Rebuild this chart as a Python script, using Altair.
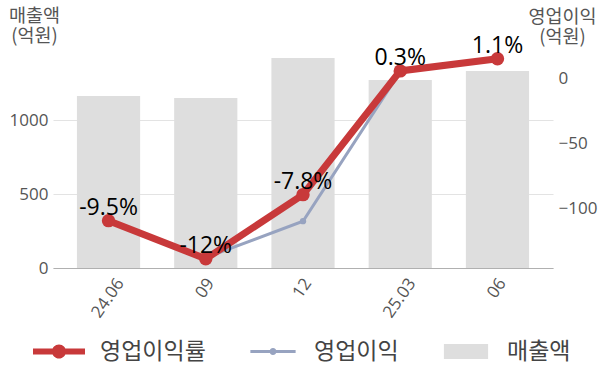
import altair as alt
import pandas as pd

periods = ["24.06", "09", "12", "25.03", "06"]
sales = [1162, 1149, 1419, 1270, 1331]          # 매출액 (억원)
op_profit = [-110, -138, -110, 5, 15]           # 영업이익 (억원)
op_margin = [-9.5, -12, -7.8, 0.3, 1.1]         # 영업이익률 (%)
legend_names = ["영업이익률", "영업이익", "매출액"]
legend_colors = ["#c8393a", "#97a3c0", "#dedede"]
left_ticks = [0, 500, 1000]
right_ticks = [-100, -50, 0]

df = pd.DataFrame({"period": periods, "sales": sales, "op": op_profit, "rate": op_margin})
leg = pd.DataFrame({"name": legend_names, "period": [periods[0]] * len(legend_names)})

FONT_KR = "Noto Sans CJK KR"
FONT_NUM = "Open Sans"
GRAY_TXT = "#555555"

x_enc = alt.X(
    "period:N",
    sort=periods,
    scale=alt.Scale(paddingInner=0.35, paddingOuter=0.246),
    axis=alt.Axis(
        title=None, labelAngle=-55, labelAlign="right", labelBaseline="middle",
        labelPadding=12,
        labelOffset={"condition": {"test": "length(datum.label) > 3", "value": 12}, "value": 5},
        ticks=False, domainColor="#b0b0b0", labelFont=FONT_NUM, labelFontSize=17,
        labelColor=GRAY_TXT, labelOverlap=False, zindex=1, grid=False,
    ),
)

base = alt.Chart(df)

bars = base.mark_bar(color="#dedede").encode(
    x=x_enc,
    y=alt.Y(
        "sales:Q",
        scale=alt.Scale(domain=[0, 1500], nice=False),
        axis=alt.Axis(
            orient="left", values=left_ticks, format="d", title=["매출액", "(억원)"], titleAngle=0,
            titleAlign="center", titleBaseline="alphabetic", titleX=-19, titleY=-25,
            titleFont=FONT_KR, titleFontSize=18.5, titleFontWeight="normal", titleColor=GRAY_TXT,
            titleLineHeight=20, labelFont=FONT_NUM, labelFontSize=17, labelColor=GRAY_TXT,
            labelPadding=5, ticks=False, domain=False, grid=True, gridColor="#e3e3e3",
        ),
    ),
)

y_op = alt.Y(
    "op:Q",
    scale=alt.Scale(domain=[-146, 24.8], nice=False, zero=False),
    axis=alt.Axis(
        orient="right", values=right_ticks, format="d", title=["영업이익", "(억원)"], titleAngle=0,
        titleAlign="center", titleBaseline="alphabetic", titleX=9, titleY=-24,
        titleFont=FONT_KR, titleFontSize=18.5, titleFontWeight="normal", titleColor=GRAY_TXT,
        titleLineHeight=20, labelFont=FONT_NUM, labelFontSize=17, labelColor=GRAY_TXT,
        labelPadding=5, ticks=False, domain=False, grid=False,
    ),
)
gray_line = base.mark_line(color="#97a3c0", strokeWidth=3).encode(x=alt.X("period:N", sort=periods), y=y_op)
gray_pts = base.mark_point(color="#97a3c0", filled=True, opacity=1, size=40).encode(
    x=alt.X("period:N", sort=periods), y=y_op)
gray = alt.layer(gray_line, gray_pts)

y_rate = alt.Y("rate:Q", scale=alt.Scale(domain=[-12.6, 1.93], nice=False, zero=False), axis=None)
red_line = base.mark_line(color="#c8393a", strokeWidth=7).encode(x=alt.X("period:N", sort=periods), y=y_rate)
red_pts = base.mark_point(color="#c8393a", filled=True, opacity=1, size=180).encode(
    x=alt.X("period:N", sort=periods), y=y_rate)
red_txt = base.transform_calculate(lbl="datum.rate + '%'").mark_text(
    dy=-6, baseline="alphabetic", fontSize=23, font=FONT_NUM, color="#000000"
).encode(x=alt.X("period:N", sort=periods), y=y_rate, text="lbl:N")
red = alt.layer(red_line, red_pts, red_txt)

shape_paths = [
    "M-1,-0.115L1,-0.115L1,0.115L-1,0.115Z M0.27,0A0.27,0.27 0 1,1 -0.27,0A0.27,0.27 0 1,1 0.27,0Z",
    "M-0.87,-0.058L0.87,-0.058L0.87,0.058L-0.87,0.058Z M0.135,0A0.135,0.135 0 1,1 -0.135,0A0.135,0.135 0 1,1 0.135,0Z",
    "M-0.85,-0.29L0.85,-0.29L0.85,0.29L-0.85,0.29Z",
]
lg = alt.Legend(
    title=None, orient="none", legendX=-20, legendY=279.5, direction="horizontal",
    symbolSize=2704, symbolOpacity=1, symbolStrokeWidth=0, labelFont=FONT_KR,
    labelFontSize=23, labelColor="#444444", labelOffset=15, columnPadding=41, padding=0,
)
legend_layer = alt.Chart(leg).mark_point(filled=True, opacity=0, size=2704).encode(
    x=alt.X("period:N", sort=periods),
    y=alt.value(100),
    color=alt.Color("name:N", sort=legend_names, scale=alt.Scale(domain=legend_names, range=legend_colors), legend=lg),
    shape=alt.Shape("name:N", sort=legend_names, scale=alt.Scale(domain=legend_names, range=shape_paths), legend=lg),
)

chart = (
    alt.layer(bars, gray, red, legend_layer)
    .resolve_scale(y="independent")
    .properties(
        width=500, height=222,
        autosize=alt.AutoSizeParams(type="none"),
        padding={"left": 53, "top": 46, "right": 47, "bottom": 115},
        background="white",
    )
    .configure_view(stroke=None)
)

chart.save("out.html", embed_options={"renderer": "svg", "actions": False})
